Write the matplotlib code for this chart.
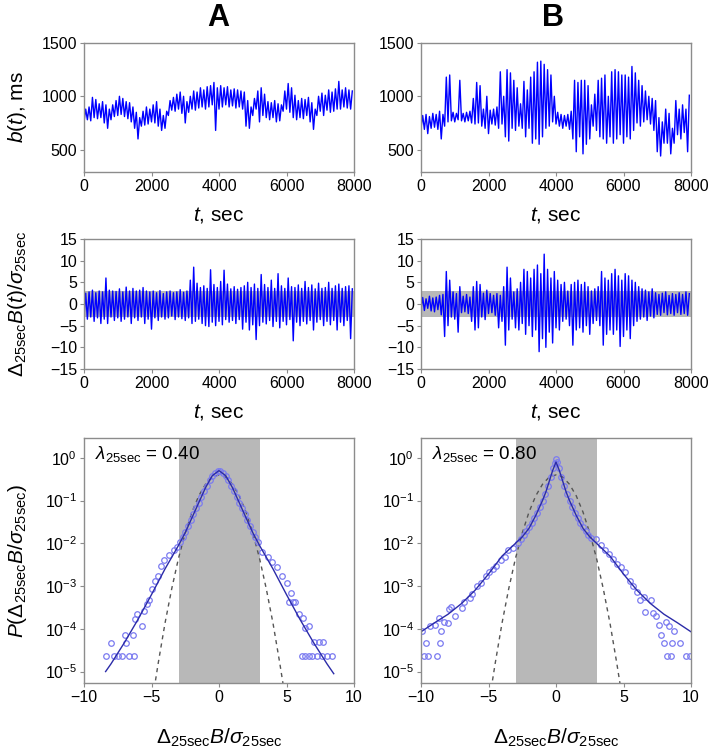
import numpy as np
import matplotlib
matplotlib.use("Agg")
import matplotlib.pyplot as plt
from matplotlib.ticker import NullLocator

plt.rcParams["font.family"] = ["Liberation Sans", "DejaVu Sans"]
plt.rcParams["mathtext.fontset"] = "custom"
plt.rcParams["mathtext.rm"] = "Liberation Sans"
plt.rcParams["mathtext.it"] = "Liberation Sans:italic"
plt.rcParams["mathtext.bf"] = "Liberation Sans:bold"

# time grid: one low/high pair per 100 s bin
t_bins = np.arange(0, 8000, 100)

# panel A, b(t) in ms
bA_lo = [760, 780, 770, 800, 790, 800, 750, 700, 780, 810, 820, 830, 810, 790, 760, 700,
         600, 720, 730, 740, 760, 750, 720, 680, 700, 820, 870, 860, 880, 840, 750, 850,
         880, 870, 890, 900, 880, 900, 920, 680, 880, 900, 920, 900, 910, 890, 900, 880,
         720, 700, 820, 880, 760, 820, 800, 780, 800, 760, 770, 860, 880, 850, 800, 780,
         800, 790, 820, 760, 690, 820, 860, 820, 870, 850, 860, 880, 880, 900, 890, 880]
bA_hi = [880, 900, 990, 970, 930, 950, 920, 880, 920, 960, 1000, 980, 950, 940, 900, 850,
         800, 860, 900, 880, 920, 950, 880, 820, 860, 960, 990, 1020, 1040, 1000, 950, 1000,
         1050, 1040, 1080, 1060, 1090, 1100, 1130, 1080, 1100, 1080, 1090, 1060, 1070, 1060, 1050, 1040,
         960, 900, 980, 1050, 1080, 1020, 950, 940, 960, 930, 920, 1050, 1120, 1080, 1010, 960,
         980, 970, 990, 940, 880, 1000, 1030, 1010, 1060, 1040, 1070, 1140, 1060, 1080, 1060, 1050]

# panel B, b(t) in ms
bB_lo = [700, 690, 650, 700, 710, 690, 600, 720, 760, 770, 760, 780, 770, 760, 770, 750,
         740, 750, 720, 700, 650, 740, 730, 700, 740, 620, 580, 700, 680, 720, 700, 620,
         700, 560, 600, 550, 620, 700, 720, 760, 740, 720, 700, 720, 690, 600, 480, 620,
         460, 550, 600, 720, 680, 620, 600, 560, 620, 560, 600, 640, 560, 620, 600, 680,
         750, 720, 760, 780, 740, 680, 480, 440, 560, 560, 460, 560, 640, 600, 660, 480]
bB_hi = [820, 830, 810, 840, 830, 860, 830, 1180, 1200, 850, 840, 1150, 840, 850, 860, 980,
         1130, 1100, 880, 1000, 870, 880, 900, 1230, 1000, 1250, 1220, 1150, 1080, 930, 1140, 1060,
         1180, 1230, 1320, 1330, 1300, 1250, 1200, 1000, 850, 830, 820, 830, 860, 1150, 1130, 1150,
         1150, 1100, 920, 1020, 1150, 1170, 1200, 1000, 1230, 1250, 1230, 1200, 1200, 1180, 1280, 1220,
         1150, 1100, 1050, 1000, 980, 960, 800, 760, 880, 840, 700, 960, 880, 920, 880, 1010]

# panel A, normalized increments
dA_lo = [-3.0, -3.5, -3.0, -4.0, -3.2, -4.5, -3.5, -4.5, -3.0, -3.8, -3.2, -4.0, -3.5, -3.0, -4.5, -3.2,
         -3.8, -3.0, -4.5, -3.5, -5.8, -3.2, -3.8, -3.0, -3.5, -3.2, -2.8, -3.6, -3.0, -3.4, -3.8, -3.2,
         -4.5, -4.0, -3.5, -4.5, -5.0, -5.2, -4.2, -5.0, -4.0, -4.8, -3.6, -4.2, -3.8, -4.5, -3.6, -5.8,
         -4.2, -6.0, -4.8, -8.2, -5.0, -4.2, -4.6, -3.8, -5.2, -4.0, -5.5, -4.0, -4.8, -3.6, -8.5, -4.2,
         -5.0, -4.0, -4.6, -3.8, -6.0, -4.2, -3.6, -5.0, -4.0, -4.8, -3.8, -6.0, -4.2, -5.0, -3.8, -8.0]
dA_hi = [2.5, 2.8, 3.2, 2.6, 3.0, 2.8, 6.0, 3.2, 3.0, 2.9, 3.5, 2.8, 3.9, 3.0, 3.6, 3.0,
         3.2, 3.8, 3.0, 2.8, 3.0, 2.6, 3.1, 2.4, 2.8, 3.0, 2.6, 2.8, 3.3, 2.7, 3.0, 5.5,
         8.5, 4.8, 3.8, 4.2, 3.6, 7.9, 4.5, 3.8, 5.2, 7.8, 4.6, 3.5, 4.0, 3.4, 3.8, 4.2,
         5.0, 3.8, 4.6, 3.6, 6.8, 4.5, 3.8, 5.5, 3.6, 7.0, 4.2, 3.6, 6.0, 4.0, 3.8, 4.4,
         3.6, 5.2, 3.8, 4.4, 3.5, 4.8, 3.6, 3.8, 5.0, 3.6, 4.2, 4.6, 3.6, 4.0, 4.2, 3.5]

# panel B, normalized increments
dB_lo = [-1.2, -1.5, -1.0, -1.6, -1.8, -1.3, -2.5, -7.5, -5.0, -3.0, -3.5, -6.5, -2.0, -1.8, -2.2, -4.0,
         -6.0, -5.5, -3.0, -3.6, -2.2, -2.0, -2.6, -5.5, -4.0, -9.5, -6.0, -3.5, -5.5, -6.0, -4.5, -7.0,
         -5.0, -7.5, -6.0, -11.0, -8.0, -10.0, -6.5, -9.0, -5.5, -6.0, -4.0, -3.5, -5.0, -9.5, -6.0, -5.5,
         -6.5, -5.0, -7.0, -4.5, -3.8, -5.0, -9.5, -7.0, -6.0, -7.0, -6.0, -9.8, -7.5, -6.0, -8.0, -5.0,
         -4.0, -3.5, -3.0, -3.8, -2.8, -3.2, -2.4, -2.6, -2.0, -2.5, -2.2, -2.6, -2.0, -2.4, -2.2, -2.6]
dB_hi = [1.5, 1.2, 1.8, 1.4, 1.6, 2.0, 2.2, 7.5, 5.5, 2.8, 2.4, 4.0, 1.8, 2.2, 1.6, 4.0,
         5.2, 4.5, 2.5, 3.2, 2.4, 2.0, 2.4, 2.0, 4.0, 8.5, 6.0, 2.8, 3.5, 5.0, 8.0, 7.5,
         6.0, 8.0, 9.0, 7.0, 11.5, 8.0, 6.0, 7.5, 5.5, 4.5, 5.0, 3.0, 4.5, 5.0, 5.5, 4.5,
         5.0, 4.0, 3.0, 3.5, 4.0, 7.5, 6.0, 5.5, 7.0, 8.0, 6.5, 5.5, 7.0, 6.5, 5.5, 5.0,
         4.0, 3.5, 3.2, 2.8, 3.5, 2.6, 2.2, 2.5, 2.8, 2.0, 2.4, 2.2, 2.6, 2.2, 2.8, 2.4]

# PDFs, values given as log10 P
# gaussian (dashed), same in both panels
gauss_x = [-4.8, -4.5, -4.0, -3.5, -3.0, -2.5, -2.0, -1.5, -1.0, -0.5, 0.0,
           0.5, 1.0, 1.5, 2.0, 2.5, 3.0, 3.5, 4.0, 4.5, 4.8]
gauss_logp = [-5.40, -4.80, -3.87, -3.06, -2.35, -1.76, -1.27, -0.89, -0.62, -0.45, -0.40,
              -0.45, -0.62, -0.89, -1.27, -1.76, -2.35, -3.06, -3.87, -4.80, -5.40]

# fitted curves (solid)
fitA_x = [-8.4, -8.0, -7.0, -6.0, -5.0, -4.0, -3.0, -2.5, -2.0, -1.5, -1.0, -0.5, 0.0,
          0.5, 1.0, 1.5, 2.0, 2.5, 3.0, 4.0, 5.0, 6.0, 7.0, 8.0, 8.5]
fitA_logp = [-5.0, -4.82, -4.32, -3.78, -3.2, -2.6, -2.05, -1.75, -1.4, -1.05, -0.7, -0.42, -0.30,
             -0.42, -0.7, -1.05, -1.4, -1.75, -2.05, -2.6, -3.2, -3.78, -4.32, -4.82, -5.05]
fitB_x = [-10, -9, -8, -7, -6, -5, -4, -3.5, -3, -2.5, -2, -1.5, -1, -0.75, -0.5, -0.25, 0,
          0.25, 0.5, 0.75, 1, 1.5, 2, 2.5, 3, 3.5, 4, 5, 6, 7, 8, 9, 10]
fitB_logp = [-4.07, -3.86, -3.66, -3.41, -3.1, -2.72, -2.3, -2.15, -2.0, -1.85, -1.65, -1.35, -1.0,
             -0.8, -0.55, -0.3, -0.1, -0.3, -0.55, -0.8, -1.0, -1.35, -1.65, -1.85, -2.0, -2.15,
             -2.3, -2.72, -3.1, -3.41, -3.66, -3.86, -4.07]

# empirical points (circles)
ptsA_x = [-8.4, -8.0, -7.8, -7.5, -7.2, -7.0, -6.9, -6.7, -6.4, -6.3, -6.2, -6.05, -5.7, -5.55,
          -5.3, -5.2, -4.95, -4.75, -4.55, -4.3, -4.1, -3.7, -3.35, -3.1,
          -2.9, -2.7, -2.5, -2.3, -2.1, -1.9, -1.7, -1.5, -1.3, -1.1, -0.9, -0.7, -0.5, -0.3, -0.1,
          0.1, 0.3, 0.5, 0.7, 0.9, 1.1, 1.3, 1.5, 1.7, 1.9, 2.1, 2.3, 2.5, 2.7, 2.9,
          3.2, 3.6, 3.95, 4.3, 4.7, 5.05, 5.2, 5.3, 5.5, 5.6, 5.9, 6.15, 6.2, 6.35, 6.4, 6.65,
          6.65, 6.9, 7.0, 7.25, 7.4, 7.6, 7.7, 8.0, 8.4]
ptsA_logp = [-4.63, -4.33, -4.63, -4.63, -4.63, -4.15, -4.33, -4.63, -4.15, -4.63, -3.78, -3.66, -3.94, -3.58,
             -3.41, -3.33, -3.07, -2.89, -2.76, -2.52, -2.40, -2.28, -2.15, -2.08,
             -1.98, -1.86, -1.74, -1.60, -1.46, -1.32, -1.18, -1.05, -0.91, -0.78, -0.65, -0.53, -0.43, -0.35, -0.31,
             -0.31, -0.35, -0.43, -0.53, -0.65, -0.78, -0.91, -1.05, -1.18, -1.32, -1.46, -1.60, -1.74, -1.86, -1.98,
             -2.20, -2.32, -2.44, -2.56, -2.76, -2.93, -3.37, -3.17, -3.37, -3.37, -3.66, -4.63, -3.74, -3.98, -4.63, -3.94,
             -4.63, -4.63, -4.30, -4.63, -4.30, -4.63, -4.30, -4.63, -4.63]
ptsB_x = [-9.9, -9.75, -9.6, -9.45, -9.3, -9.0, -8.8, -8.7, -8.6, -8.5, -8.3, -8.0, -7.9, -7.8, -7.5,
          -7.0, -6.8, -6.4, -6.2, -5.85, -5.55, -5.2, -4.95, -4.7, -4.45, -4.1, -3.8, -3.55, -3.2,
          -2.85, -2.6, -2.4, -2.2, -2.0, -1.8, -1.6, -1.4, -1.2, -1.0, -0.8, -0.6, -0.4, -0.2, -0.1, 0.0,
          0.1, 0.2, 0.4, 0.6, 0.8, 1.0, 1.2, 1.4, 1.6, 1.8, 2.0, 2.2, 2.4, 2.6,
          2.95, 3.3, 3.6, 3.95, 4.2, 4.55, 4.8, 5.1, 5.45, 5.7, 6.0, 6.25, 6.55, 6.6, 7.05, 7.15,
          7.4, 7.65, 7.8, 8.0, 8.15, 8.25, 8.4, 8.5, 8.6, 8.75, 9.2, 9.6, 9.9]
ptsB_logp = [-4.05, -4.63, -4.33, -4.63, -3.94, -3.90, -4.63, -3.74, -4.33, -4.05, -3.85, -3.87, -3.53, -3.50, -3.70,
             -3.52, -3.38, -3.28, -3.18, -3.00, -2.94, -2.76, -2.67, -2.60, -2.52, -2.40, -2.32, -2.15, -2.10,
             -2.00, -1.90, -1.80, -1.72, -1.62, -1.52, -1.40, -1.28, -1.15, -1.00, -0.84, -0.66, -0.45, -0.25, -0.12, -0.02,
             -0.10, -0.24, -0.45, -0.66, -0.84, -1.00, -1.15, -1.28, -1.40, -1.52, -1.62, -1.72, -1.80, -1.88,
             -1.91, -2.03, -2.15, -2.26, -2.36, -2.48, -2.56, -2.68, -2.88, -3.00, -3.13, -3.33, -3.25, -3.60, -3.33, -3.64,
             -3.70, -3.90, -4.15, -4.33, -3.85, -4.63, -3.94, -4.63, -4.33, -4.05, -4.33, -4.63, -4.63]

lam_text = [r"$\lambda_{\rm 25sec}$ = 0.40", r"$\lambda_{\rm 25sec}$ = 0.80"]

line_blue = "#0000ff"
spine_gray = "#8c8c8c"
band_gray = "#b8b8b8"


def zigzag(lo, hi):
    # alternate low/high values inside each bin
    x = np.column_stack([t_bins, t_bins + 50]).ravel()
    y = np.column_stack([lo, hi]).ravel()
    return x, y


def style(ax):
    for s in ax.spines.values():
        s.set_color(spine_gray)
        s.set_linewidth(1.0)
    ax.tick_params(direction="out", length=3, width=0.8, color=spine_gray, labelsize=11.5, pad=2)


fig = plt.figure(figsize=(7.08, 7.49), dpi=100)
W, H = 708, 749


def add_ax(x0, y0, x1, y1):
    return fig.add_axes([x0 / W, 1 - y1 / H, (x1 - x0) / W, (y1 - y0) / H])


lefts = [84, 421]
axes_top = [add_ax(l, 43, l + 270, 172) for l in lefts]
axes_mid = [add_ax(l, 239, l + 270, 369) for l in lefts]
axes_bot = [add_ax(l, 438, l + 270, 683) for l in lefts]

# top row: raw time series
for ax, lo, hi in zip(axes_top, [bA_lo, bB_lo], [bA_hi, bB_hi]):
    x, y = zigzag(lo, hi)
    ax.plot(x, y, color=line_blue, lw=1.0)
    ax.set_xlim(0, 8000)
    ax.set_ylim(290, 1500)
    ax.set_xticks([0, 2000, 4000, 6000, 8000])
    ax.set_yticks([500, 1000, 1500])
    ax.set_xlabel(r"$t$, sec", fontsize=15, labelpad=8)
    style(ax)
axes_top[0].set_ylabel(r"$b(t)$, ms", fontsize=15)
axes_top[0].yaxis.set_label_coords(-0.205, 0.5)

# middle row: normalized increments
for ax, lo, hi in zip(axes_mid, [dA_lo, dB_lo], [dA_hi, dB_hi]):
    ax.axhspan(-3, 3, color=band_gray, lw=0)
    x, y = zigzag(lo, hi)
    ax.plot(x, y, color=line_blue, lw=1.0)
    ax.set_xlim(0, 8000)
    ax.set_ylim(-15, 15)
    ax.set_xticks([0, 2000, 4000, 6000, 8000])
    ax.set_yticks([-15, -10, -5, 0, 5, 10, 15])
    ax.set_yticklabels(["\u221215", "\u221210", "\u22125", "0", "5", "10", "15"])
    ax.set_xlabel(r"$t$, sec", fontsize=15, labelpad=8)
    style(ax)
axes_mid[0].set_ylabel(r"$\Delta_{\rm 25sec}B(t)/\sigma_{\rm 25sec}$", fontsize=15)
axes_mid[0].yaxis.set_label_coords(-0.205, 0.5)

# bottom row: PDFs
for ax, px, py, fx, fy, txt in zip(axes_bot, [ptsA_x, ptsB_x], [ptsA_logp, ptsB_logp],
                                   [fitA_x, fitB_x], [fitA_logp, fitB_logp], lam_text):
    ax.axvspan(-3, 3, color=band_gray, lw=0)
    ax.plot(gauss_x, 10 ** np.array(gauss_logp), color="#555555", lw=1.0, ls=(0, (3, 3)))
    ax.plot(px, 10 ** np.array(py), "o", mfc="none", mec="#7b7bf0", mew=0.9, ms=4)
    ax.plot(fx, 10 ** np.array(fy), color="#2b2ba8", lw=1.0)
    ax.set_yscale("log")
    ax.set_xlim(-10, 10)
    ax.set_ylim(5.4e-6, 2.9)
    ax.set_xticks([-10, -5, 0, 5, 10])
    ax.set_xticklabels(["\u221210", "\u22125", "0", "5", "10"])
    ax.set_yticks([1e-5, 1e-4, 1e-3, 1e-2, 1e-1, 1e0])
    ax.yaxis.set_minor_locator(NullLocator())
    ax.set_xlabel(r"$\Delta_{\rm 25sec}B/\sigma_{\rm 25sec}$", fontsize=15, labelpad=16)
    ax.text(0.04, 0.975, txt, transform=ax.transAxes, fontsize=13.5, va="top", ha="left")
    style(ax)
axes_bot[0].set_ylabel(r"$P(\Delta_{\rm 25sec}B/\sigma_{\rm 25sec})$", fontsize=15)
axes_bot[0].yaxis.set_label_coords(-0.205, 0.5)

fig.text(218 / W, 1 - 18 / H, "A", fontsize=22, fontweight="bold", ha="center", va="center")
fig.text(553 / W, 1 - 18 / H, "B", fontsize=22, fontweight="bold", ha="center", va="center")

fig.savefig("out.png", dpi=100)
